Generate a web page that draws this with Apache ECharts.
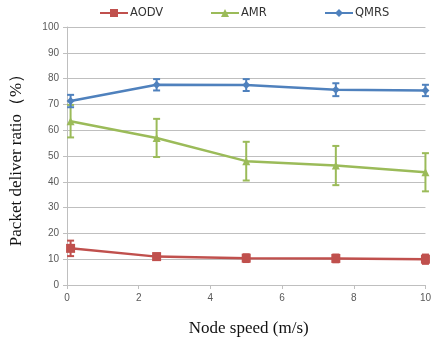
<!DOCTYPE html>
<html><head><meta charset="utf-8">
<script src="https://cdn.jsdelivr.net/npm/echarts@6/dist/echarts.min.js"></script>
<style>html,body{margin:0;padding:0;background:#fff}#c{width:434px;height:344px}</style>
</head><body><div id="c"></div>
<script>
const speeds = [0.1, 2.5, 5, 7.5, 10];
const aodv = [14.2, 11.0, 10.4, 10.3, 10.0];
const aodvErr = [3.0, 1.2, 1.5, 1.5, 1.8];
const amr = [63.5, 57.0, 48.0, 46.3, 43.7];
const amrErr = [6.3, 7.4, 7.5, 7.6, 7.4];
const qmrs = [71.3, 77.6, 77.5, 75.7, 75.4];
const qmrsErr = [2.4, 2.2, 2.3, 2.5, 2.2];
const xTicks = [0, 2, 4, 6, 8, 10];
const yTicks = [0, 10, 20, 30, 40, 50, 60, 70, 80, 90, 100];

const colors = {AODV:'#C0504D', AMR:'#9BBB59', QMRS:'#4F81BD'};

function errSeries(name, vals, errs){
  return {
    type:'custom', name:name+' err', silent:true, z:3,
    data: speeds.map((x,i)=>[x, vals[i]-errs[i], vals[i]+errs[i]]),
    renderItem:function(params, api){
      const lo = api.coord([api.value(0), api.value(1)]);
      const hi = api.coord([api.value(0), api.value(2)]);
      const w = 3.5;
      const st = {stroke: colors[name], lineWidth: 2};
      return {type:'group', children:[
        {type:'line', shape:{x1:lo[0],y1:lo[1],x2:hi[0],y2:hi[1]}, style:st},
        {type:'line', shape:{x1:lo[0]-w,y1:lo[1],x2:lo[0]+w,y2:lo[1]}, style:st},
        {type:'line', shape:{x1:hi[0]-w,y1:hi[1],x2:hi[0]+w,y2:hi[1]}, style:st}
      ]};
    }
  };
}
function lineSeries(name, vals, symbol, size){
  return {type:'line', name:name, data:speeds.map((x,i)=>[x, vals[i]]),
    symbol:symbol, symbolSize:size, showSymbol:true, z:4,
    itemStyle:{color:colors[name]}, lineStyle:{color:colors[name], width:2.5}};
}
function leg(name, left){
  return {top:2, left:left, itemWidth:28, itemHeight:10, itemGap:2, data:[name],
    textStyle:{fontFamily:'DejaVu Sans, Verdana', fontSize:11.5, color:'#333', padding:[0,0,0,-3]}};
}
const chart = echarts.init(document.getElementById('c'));
chart.setOption({
  animation:false,
  legend:[leg('AODV', 94), leg('AMR', 205), leg('QMRS', 319)],
  grid:{left:64, right:7, top:27, bottom:59},
  xAxis:{type:'value', min:0, max:10, interval:2, data:xTicks,
    axisLine:{lineStyle:{color:'#BFBFBF', width:1}},
    axisTick:{show:true, length:4, lineStyle:{color:'#BFBFBF'}},
    axisLabel:{color:'#595959', fontSize:10, margin:8},
    splitLine:{show:false},
    name:'Node speed (m/s)', nameLocation:'middle', nameGap:35,
    nameTextStyle:{fontFamily:'Liberation Serif, Times New Roman', fontSize:17, color:'#111', padding:[0,0,0,5]}},
  yAxis:{type:'value', min:0, max:100, interval:10,
    axisLine:{show:true, lineStyle:{color:'#BFBFBF', width:1}},
    axisTick:{show:true, length:4, lineStyle:{color:'#BFBFBF'}},
    axisLabel:{color:'#595959', fontSize:10, margin:8},
    splitLine:{lineStyle:{color:'#BFBFBF', width:1}},
    name:'Packet deliver ratio（%）', nameLocation:'middle', nameGap:42,
    nameTextStyle:{fontFamily:'Liberation Serif, Times New Roman', fontSize:17, color:'#111'}},
  series:[
    errSeries('AODV', aodv, aodvErr),
    errSeries('AMR', amr, amrErr),
    errSeries('QMRS', qmrs, qmrsErr),
    lineSeries('AODV', aodv, 'rect', 9),
    lineSeries('AMR', amr, 'triangle', 8),
    lineSeries('QMRS', qmrs, 'diamond', 8)
  ]
});
</script></body></html>
